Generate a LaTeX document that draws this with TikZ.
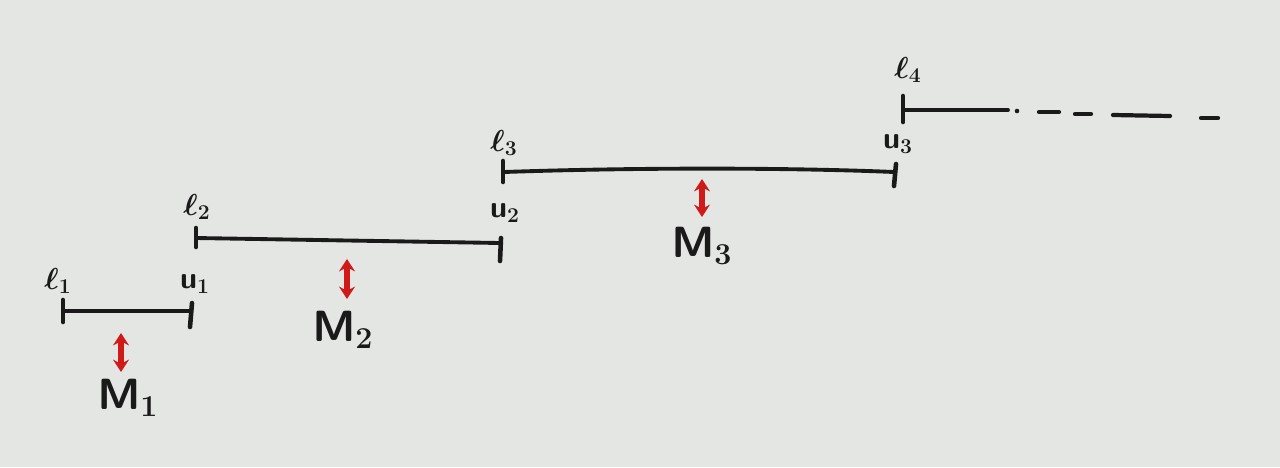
\documentclass[tikz,border=0pt]{standalone}
\usetikzlibrary{arrows.meta}
\definecolor{board}{HTML}{E4E6E4}
\definecolor{ink}{HTML}{1A1A1A}
\definecolor{redink}{HTML}{D01A1A}
\begin{document}
\begin{tikzpicture}[x=0.02cm,y=-0.02cm,
  seg/.style={draw=ink,line width=2.2pt,line cap=round},
  tick/.style={draw=ink,line width=2.6pt,line cap=round},
  lab/.style={text=ink,font=\fontsize{18}{18}\selectfont\boldmath,inner sep=0pt},
  mlab/.style={text=ink,font=\fontsize{25}{25}\selectfont\boldmath,inner sep=0pt},
  redarrow/.style={draw=redink,line width=3.2pt,{Stealth[length=7pt,width=9pt]}-{Stealth[length=7pt,width=9pt]}},
  dsh/.style={draw=ink,line width=2.4pt,line cap=round}]
\fill[board] (0,0) rectangle (1280,467);
\useasboundingbox (0,0) rectangle (1280,467);
% interval 1
\coordinate (l1) at (63,311);
\coordinate (u1) at (190,311);
\draw[tick] (63,300) -- (63,322);
\draw[tick] (192,303) -- (190,327);
\draw[seg] (l1) -- (u1);
\node[lab] (l1t) at (58,281) {$\ell_1$};
\node[lab] (u1t) at (195,284) {$\mathsf{u}_1$};
\draw[redarrow] (121,333) -- (121,372);
\node[mlab] (m1) at (128,398) {$\mathsf{M}_1$};
% interval 2
\coordinate (l2) at (196,238);
\coordinate (u2) at (500,243);
\draw[tick] (196,228) -- (196,247);
\draw[tick] (501,238) -- (500,261);
\draw[seg] (l2) -- (u2);
\node[lab] (l2t) at (197,207) {$\ell_2$};
\node[lab] (u2t) at (505,213) {$\mathsf{u}_2$};
\draw[redarrow] (347,259) -- (347,299);
\node[mlab] (m2) at (343,330) {$\mathsf{M}_2$};
% interval 3
\coordinate (l3) at (504,172);
\coordinate (u3) at (894,172);
\draw[tick] (503,161) -- (503,182);
\draw[tick] (896,164) -- (894,186);
\draw[seg] (l3) .. controls (650,167) and (800,168) .. (u3);
\node[lab] (l3t) at (504,143) {$\ell_3$};
\node[lab] (u3t) at (898,144) {$\mathsf{u}_3$};
\draw[redarrow] (702,179) -- (702,217);
\node[mlab] (m3) at (702,246) {$\mathsf{M}_3$};
% interval 4
\coordinate (l4) at (904,110);
\coordinate (e4) at (1008,110);
\draw[tick] (903,96) -- (903,122);
\draw[seg] (l4) -- (e4);
\node[lab] (l4t) at (908,70) {$\ell_4$};
\fill[ink] (1017,111) circle (1.3pt);
\draw[dsh] (1039,112) -- (1059,112);
\draw[dsh] (1075,114) -- (1091,114);
\draw[dsh] (1113,115) -- (1170,116);
\draw[dsh] (1201,118) -- (1218,118);
\end{tikzpicture}
\end{document}
